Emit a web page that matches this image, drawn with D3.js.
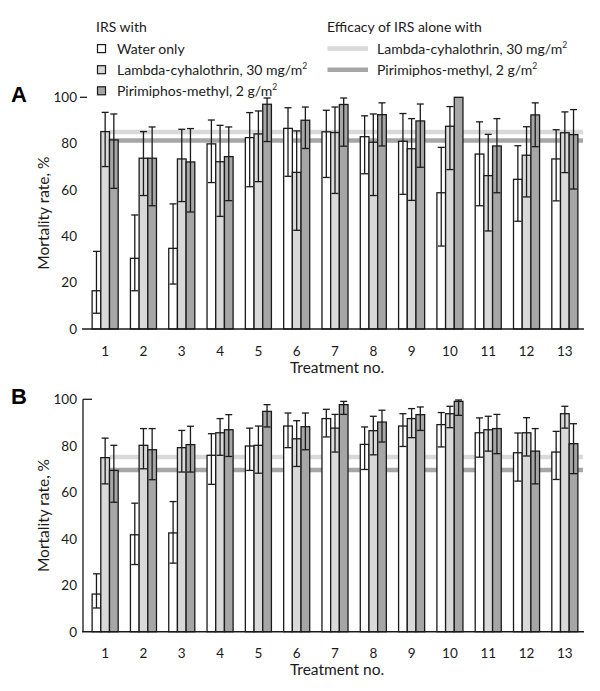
<!DOCTYPE html>
<html>
<head>
<meta charset="utf-8">
<script src="https://cdn.jsdelivr.net/npm/d3@7"></script>
<style>
  html, body { margin: 0; padding: 0; background: #fff; }
  svg { display: block; font-family: Lato, "Open Sans", sans-serif; }
</style>
</head>
<body>
<svg id="chart" width="600" height="691"></svg>
<script>
// ---------------- DATA ----------------
const categories = ['1','2','3','4','5','6','7','8','9','10','11','12','13'];
const seriesNames = ['Water only', 'Lambda-cyhalothrin, 30 mg/m', 'Pirimiphos-methyl, 2 g/m'];
const refNames = ['Lambda-cyhalothrin, 30 mg/m', 'Pirimiphos-methyl, 2 g/m'];
const yTicks = [0, 20, 40, 60, 80, 100];

// Panel A
const aWater     = [16.5, 30.5, 34.8, 79.9, 82.6, 86.6, 85.1, 83.0, 81.0, 58.8, 75.5, 64.6, 73.4];
const aWaterLo   = [ 6.8, 16.5, 19.4, 63.2, 61.4, 65.9, 65.4, 67.0, 58.1, 35.8, 53.2, 46.5, 55.3];
const aWaterHi   = [33.5, 49.2, 54.0, 90.2, 93.4, 95.5, 94.4, 92.0, 93.0, 78.4, 89.4, 79.1, 86.0];
const aLambda    = [85.2, 73.7, 73.4, 72.2, 84.2, 67.6, 84.8, 80.6, 77.8, 87.5, 66.2, 75.0, 84.7];
const aLambdaLo  = [70.1, 57.6, 55.0, 48.6, 63.6, 42.6, 58.5, 57.6, 55.5, 68.8, 42.3, 57.0, 67.5];
const aLambdaHi  = [93.5, 85.2, 86.2, 87.9, 94.1, 85.5, 95.8, 92.8, 90.8, 96.0, 84.0, 87.3, 93.7];
const aPirim     = [81.6, 73.7, 72.1, 74.4, 97.0, 90.1, 96.9, 92.5, 89.8, 100, 79.0, 92.4, 83.9];
const aPirimLo   = [60.7, 53.2, 50.5, 55.4, 80.9, 77.9, 78.9, 79.0, 69.8, 100, 58.8, 78.7, 60.4];
const aPirimHi   = [92.8, 87.2, 86.5, 87.2, 99.7, 95.8, 99.7, 97.6, 97.1, 100, 90.8, 97.6, 94.7];
const aRef       = [85.0, 81.4];

// Panel B
const bWater     = [16.2, 41.7, 42.5, 75.9, 79.9, 88.5, 91.7, 80.6, 88.5, 89.1, 85.6, 77.0, 77.3];
const bWaterLo   = [10.2, 28.9, 29.5, 63.4, 69.4, 79.2, 83.8, 69.8, 79.7, 79.5, 75.1, 64.8, 65.5];
const bWaterHi   = [24.9, 55.3, 56.0, 85.2, 87.6, 94.1, 95.7, 88.1, 93.8, 94.3, 92.0, 85.5, 86.2];
const bLambda    = [74.9, 80.2, 79.2, 85.6, 80.2, 83.0, 87.6, 86.5, 91.7, 93.8, 86.9, 85.6, 93.8];
const bLambdaLo  = [63.6, 70.1, 68.7, 75.9, 68.2, 71.1, 77.3, 76.1, 83.5, 87.8, 77.7, 75.6, 87.6];
const bLambdaHi  = [83.3, 87.4, 86.6, 91.7, 88.5, 90.8, 93.5, 92.7, 96.0, 97.0, 92.7, 92.1, 97.0];
const bPirim     = [69.4, 78.3, 80.5, 86.9, 94.8, 88.2, 97.7, 90.2, 93.4, 99.1, 87.4, 77.7, 80.9];
const bPirimLo   = [55.7, 65.4, 68.7, 75.4, 88.1, 78.3, 93.5, 81.6, 86.6, 93.1, 76.6, 63.6, 68.0];
const bPirimHi   = [80.2, 87.4, 88.4, 93.4, 97.7, 94.1, 99.1, 95.3, 96.7, 99.7, 93.5, 87.4, 89.5];
const bRef       = [75.2, 69.6];

// ---------------- STYLE ----------------
const barFills = ['#ffffff', '#d9d9d9', '#a6a6a6'];
const refColors = ['#d9d9d9', '#a6a6a6'];
const ink = '#1a1a1a';

const svg = d3.select('#chart');

// ---------------- LEGEND ----------------
const leg = svg.append('g').attr('font-size', 14).attr('fill', ink);
leg.append('text').attr('x', 96).attr('y', 32).text('IRS with');
const legRowY = [48.6, 69.7, 90.8];
seriesNames.forEach((name, i) => {
  leg.append('rect').attr('x', 97.5).attr('y', legRowY[i] - 4).attr('width', 8).attr('height', 8)
    .attr('fill', barFills[i]).attr('stroke', ink).attr('stroke-width', 1.2);
  const t = leg.append('text').attr('x', 117).attr('y', legRowY[i] + 5).text(name);
  if (i > 0) t.append('tspan').attr('font-size', 8.5).attr('dy', -6).text('2');
});
leg.append('text').attr('x', 327).attr('y', 32).text('Efficacy of IRS alone with');
refNames.forEach((name, i) => {
  leg.append('line').attr('x1', 327.5).attr('x2', 368).attr('y1', legRowY[i]).attr('y2', legRowY[i])
    .attr('stroke', refColors[i]).attr('stroke-width', 4.5);
  const t = leg.append('text').attr('x', 377).attr('y', legRowY[i] + 5).text(name);
  t.append('tspan').attr('font-size', 8.5).attr('dy', -6).text('2');
});

// ---------------- PANELS ----------------
function panel(opts) {
  const { label, top, bottom, series, lows, highs, refs, axisLine, tickX } = opts;
  const g = svg.append('g');
  const x = d3.scaleBand().domain(categories).range([86, 584]).paddingInner(0.32).paddingOuter(0.16);
  const xs = d3.scaleBand().domain([0, 1, 2]).range([0, x.bandwidth()]);
  const y = d3.scaleLinear().domain([0, 100]).range([bottom, top]);

  // panel letter
  g.append('text').attr('x', 11).attr('y', top + 5).attr('font-family', 'Liberation Sans, Arial, sans-serif')
    .attr('font-weight', 'bold').attr('font-size', 22).attr('fill', '#000').text(label);

  // y tick labels
  g.append('g').selectAll('text').data(yTicks).join('text')
    .attr('x', 77).attr('y', d => y(d) + 4.8).attr('text-anchor', 'end')
    .attr('font-size', 13.5).attr('fill', ink).text(d => d);
  // tick at 100
  g.append('line').attr('x1', tickX[0]).attr('x2', tickX[1]).attr('y1', y(100)).attr('y2', y(100))
    .attr('stroke', ink).attr('stroke-width', 1.3);
  if (axisLine) {
    g.append('line').attr('x1', 83).attr('x2', 83).attr('y1', y(100)).attr('y2', y(0))
      .attr('stroke', ink).attr('stroke-width', 1.3);
  }
  // y title
  g.append('text').attr('transform', `translate(48.5,${(top + bottom) / 2}) rotate(-90)`)
    .attr('text-anchor', 'middle').attr('font-size', 15.5).attr('fill', ink).text('Mortality rate, %');

  // reference lines (behind bars)
  const refStart = x(categories[0]) + xs(2);
  refs.forEach((v, i) => {
    g.append('line').attr('x1', refStart).attr('x2', 583).attr('y1', y(v)).attr('y2', y(v))
      .attr('stroke', refColors[i]).attr('stroke-width', 4.5);
  });

  // bars
  const rows = [];
  categories.forEach((c, ci) => {
    series.forEach((s, si) => {
      rows.push({ c, si, v: s[ci], lo: lows[si][ci], hi: highs[si][ci] });
    });
  });
  g.append('g').selectAll('rect').data(rows).join('rect')
    .attr('x', d => x(d.c) + xs(d.si))
    .attr('y', d => y(d.v))
    .attr('width', xs.bandwidth())
    .attr('height', d => y(0) - y(d.v))
    .attr('fill', d => barFills[d.si])
    .attr('stroke', ink).attr('stroke-width', 1.3);

  // error bars
  const eb = g.append('g').attr('stroke', ink).attr('stroke-width', 1.3);
  const errRows = rows.filter(d => d.hi - d.lo > 0.5);
  const cx = d => x(d.c) + xs(d.si) + xs.bandwidth() / 2;
  const capW = 3.5;
  eb.selectAll('line.v').data(errRows).join('line').attr('class', 'v')
    .attr('x1', cx).attr('x2', cx).attr('y1', d => y(d.lo)).attr('y2', d => y(d.hi));
  eb.selectAll('line.t').data(errRows).join('line').attr('class', 't')
    .attr('x1', d => cx(d) - capW).attr('x2', d => cx(d) + capW)
    .attr('y1', d => y(d.hi)).attr('y2', d => y(d.hi));
  eb.selectAll('line.b').data(errRows).join('line').attr('class', 'b')
    .attr('x1', d => cx(d) - capW).attr('x2', d => cx(d) + capW)
    .attr('y1', d => y(d.lo)).attr('y2', d => y(d.lo));

  // baseline
  g.append('line').attr('x1', 82).attr('x2', 584).attr('y1', y(0)).attr('y2', y(0))
    .attr('stroke', ink).attr('stroke-width', 1.4);

  // x tick labels
  g.append('g').selectAll('text').data(categories).join('text')
    .attr('x', d => x(d) + x.bandwidth() / 2).attr('y', bottom + 26.5)
    .attr('text-anchor', 'middle').attr('font-size', 13.5).attr('fill', ink).text(d => d);
  g.append('text').attr('x', 337).attr('y', bottom + 43.5).attr('text-anchor', 'middle')
    .attr('font-size', 15.5).attr('fill', ink).text('Treatment no.');
}

panel({
  label: 'A', top: 97.3, bottom: 329,
  series: [aWater, aLambda, aPirim],
  lows: [aWaterLo, aLambdaLo, aPirimLo],
  highs: [aWaterHi, aLambdaHi, aPirimHi],
  refs: aRef, axisLine: false, tickX: [80, 87]
});
panel({
  label: 'B', top: 399.3, bottom: 631.7,
  series: [bWater, bLambda, bPirim],
  lows: [bWaterLo, bLambdaLo, bPirimLo],
  highs: [bWaterHi, bLambdaHi, bPirimHi],
  refs: bRef, axisLine: true, tickX: [83, 92]
});
</script>
</body>
</html>
